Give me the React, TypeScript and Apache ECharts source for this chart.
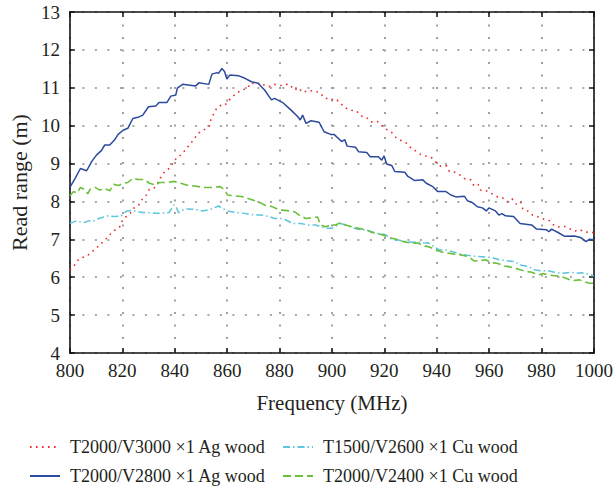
import React, { useEffect, useRef } from "react";
import * as echarts from "echarts";

const seriesNames = [
  "T2000/V3000 ×1 Ag wood",
  "T1500/V2600 ×1 Cu wood",
  "T2000/V2800 ×1 Ag wood",
  "T2000/V2400 ×1 Cu wood",
];

const xTicksMin = 800;
const xTicksMax = 1000;
const yTicksMin = 4;
const yTicksMax = 13;

// T2000/V3000 ×1 Ag wood (red dotted)
const redData: [number, number][] = [
  [800, 6.19], [801.8, 6.32], [803.3, 6.47], [804.8, 6.52], [806.7, 6.57], [808.6, 6.68],
  [810.4, 6.79], [812.1, 6.9], [813.7, 7.01], [815.5, 7.14], [817.1, 7.24], [819, 7.33],
  [820, 7.49], [821.5, 7.6], [823.1, 7.69], [824.3, 7.82], [826.2, 7.9], [827.4, 8.04],
  [829.2, 8.17], [830.3, 8.32], [832.2, 8.36], [833.5, 8.48], [834.7, 8.64], [836.2, 8.79],
  [837.9, 8.87], [839.5, 9.02], [840.8, 9.16], [842.5, 9.23], [844.2, 9.37], [845.8, 9.51],
  [846.9, 9.6], [848.2, 9.73], [849.7, 9.84], [851.4, 9.9], [853.2, 9.99], [853.8, 10.16],
  [855.1, 10.34], [856.1, 10.47], [857.7, 10.54], [859.2, 10.54], [860.5, 10.66], [862.1, 10.77],
  [863.9, 10.87], [865.5, 10.94], [867.7, 10.98], [869.1, 11.13], [871.2, 11.09], [872.7, 11.13],
  [874.6, 11.05], [876.5, 11.03], [878.1, 11.09], [880.4, 11.06], [882.2, 11.09], [883.8, 11.09],
  [885.7, 10.94], [887.2, 11.0], [888.8, 10.88], [890.9, 10.92], [892.9, 10.92], [895.5, 10.87],
  [897, 10.74], [899.3, 10.68], [901.4, 10.71], [903, 10.61], [904.8, 10.48], [907, 10.41],
  [909.3, 10.39], [911, 10.26], [913.3, 10.21], [914.9, 10.1], [917.4, 10.11], [919, 10.0],
  [920.9, 9.9], [922.8, 9.82], [924.4, 9.69], [926.3, 9.61], [928.2, 9.55], [929.9, 9.43],
  [931.8, 9.34], [933.8, 9.24], [935.7, 9.2], [938.1, 9.15], [939.5, 9.05], [941.4, 8.93],
  [943.8, 8.94], [944.8, 8.79], [946.9, 8.77], [948.8, 8.7], [950.6, 8.6], [953, 8.57],
  [954.2, 8.41], [955.8, 8.45], [956.7, 8.3], [958.9, 8.28], [960.9, 8.21], [962.8, 8.13],
  [965.2, 8.09], [966.8, 7.99], [968.7, 8.07], [970.3, 7.93], [972.1, 7.99], [972.8, 7.8],
  [974.7, 7.75], [976.6, 7.64], [979, 7.59], [981, 7.53], [983.1, 7.49], [985, 7.35],
  [987.2, 7.32], [988.8, 7.34], [990.7, 7.28], [992.8, 7.22], [994.5, 7.26], [996.6, 7.19],
  [998.9, 7.19], [1000, 7.17],
];

// T1500/V2600 ×1 Cu wood (cyan dash-dot)
const cyanData: [number, number][] = [
  [800, 7.42], [802.6, 7.49], [805.2, 7.44], [807.5, 7.49], [809.6, 7.49], [811, 7.55],
  [814.6, 7.62], [817, 7.6], [819.6, 7.62], [821.5, 7.74], [823.4, 7.76], [825.3, 7.74],
  [827.8, 7.71], [830.3, 7.7], [832.8, 7.69], [835.3, 7.69], [837.9, 7.71], [839.7, 7.91],
  [840.3, 7.88], [841.6, 7.7], [843.5, 7.79], [844.8, 7.8], [847.3, 7.79], [849.2, 7.77],
  [850.4, 7.75], [853.6, 7.79], [856.7, 7.88], [858.6, 7.8], [860.5, 7.74], [863, 7.71],
  [865.5, 7.7], [868, 7.67], [870.5, 7.64], [873, 7.64], [875.6, 7.61], [878.1, 7.55],
  [880.6, 7.55], [882.5, 7.51], [885, 7.42], [888.1, 7.42], [890.7, 7.38], [893.8, 7.38],
  [895.7, 7.33], [898.2, 7.29], [900, 7.29], [903.3, 7.42], [906.4, 7.35], [909.5, 7.27],
  [912.7, 7.25], [917.7, 7.15], [920.2, 7.13], [922.8, 7.0], [925.3, 6.98], [928.5, 6.94],
  [930.9, 6.92], [932.8, 6.94], [935.4, 6.9], [936.6, 6.91], [941, 6.72], [943.5, 6.72],
  [946, 6.67], [949.2, 6.61], [951.7, 6.58], [953.6, 6.56], [957.4, 6.54], [961.1, 6.52],
  [963.7, 6.46], [967.4, 6.43], [969.9, 6.41], [971.8, 6.32], [975, 6.28], [977.5, 6.19],
  [980, 6.17], [982.5, 6.17], [985, 6.13], [987.5, 6.1], [991.3, 6.13], [993.2, 6.1],
  [995.1, 6.12], [997, 6.1], [999.5, 6.04], [1000, 6.04],
];

// T2000/V2800 ×1 Ag wood (blue solid)
const blueData: [number, number][] = [
  [800, 8.37], [802, 8.61], [804, 8.87], [806.4, 8.81], [808.3, 9.05], [810.2, 9.23],
  [812, 9.34], [813.3, 9.49], [815.2, 9.49], [817, 9.62], [818.4, 9.77], [820.3, 9.88],
  [822.1, 9.93], [824, 10.19], [826, 10.22], [827.8, 10.28], [830, 10.5], [832.8, 10.52],
  [834, 10.61], [837, 10.61], [838.5, 10.78], [840.4, 10.81], [841, 10.99], [843, 11.09],
  [848, 11.05], [849.2, 11.13], [853, 11.09], [854.2, 11.36], [856.1, 11.4], [856.7, 11.38],
  [858, 11.51], [859, 11.43], [859.9, 11.23], [861.1, 11.34], [864.3, 11.32], [866.8, 11.25],
  [869.3, 11.16], [871.8, 11.12], [874.3, 10.94], [876.9, 10.68], [878.1, 10.72], [881.2, 10.61],
  [884.4, 10.41], [886.9, 10.24], [887.9, 10.15], [888.8, 10.28], [890.1, 10.06], [892, 10.13],
  [895.1, 10.09], [897, 9.84], [899.5, 9.77], [900.8, 9.77], [903.7, 9.58], [904.9, 9.63],
  [905.8, 9.46], [909, 9.43], [910.2, 9.31], [913.3, 9.29], [914.6, 9.18], [917.7, 9.18],
  [919, 9.09], [919.9, 9.2], [920.9, 8.99], [922.8, 8.95], [924, 8.79], [927.8, 8.77],
  [929, 8.66], [931.6, 8.55], [934.7, 8.57], [936, 8.48], [938.5, 8.39], [940.4, 8.26],
  [943.5, 8.26], [945.4, 8.17], [947.3, 8.12], [950.5, 8.14], [951.7, 8.02], [953.6, 7.97],
  [955.5, 7.86], [957.4, 7.83], [958.9, 7.75], [959.9, 7.83], [962.4, 7.75], [963.7, 7.64],
  [964.9, 7.68], [966.2, 7.62], [969.3, 7.6], [971.8, 7.42], [976.2, 7.38], [978.1, 7.27],
  [981.9, 7.25], [982.8, 7.2], [983.8, 7.27], [986.3, 7.18], [988.8, 7.08], [992.6, 7.09],
  [995.1, 7.04], [997, 6.94], [998.2, 7.0], [1000, 6.99],
];

// T2000/V2400 ×1 Cu wood (green dashed)
const greenData: [number, number][] = [
  [800, 8.15], [801.4, 8.26], [802.7, 8.22], [804, 8.37], [805.5, 8.32], [806.8, 8.2],
  [807.7, 8.32], [809.6, 8.37], [811.4, 8.3], [813.3, 8.34], [815.2, 8.28], [816.7, 8.45],
  [818.6, 8.42], [820.3, 8.48], [822.1, 8.5], [824, 8.61], [826, 8.58], [828.4, 8.58],
  [830.3, 8.48], [832.8, 8.43], [834.1, 8.5], [837.2, 8.5], [839.7, 8.53], [842.3, 8.48],
  [844.8, 8.43], [849.2, 8.39], [851, 8.37], [854.2, 8.37], [857.4, 8.39], [859.2, 8.3],
  [860.1, 8.17], [862.4, 8.15], [865.5, 8.13], [868, 8.08], [870.6, 8.02], [873.1, 7.95],
  [875, 7.88], [876.9, 7.87], [879.4, 7.79], [881.3, 7.77], [883.8, 7.75], [885.7, 7.73],
  [887.5, 7.64], [890.1, 7.55], [892, 7.57], [894.5, 7.59], [895.7, 7.38], [897.6, 7.33],
  [899.5, 7.38], [901.4, 7.38], [903.3, 7.44], [905.2, 7.38], [907.7, 7.33], [910.2, 7.29],
  [913.3, 7.25], [915.2, 7.18], [917.7, 7.15], [919.6, 7.11], [922.1, 7.04], [924.6, 7.0],
  [927.2, 6.94], [930.3, 6.9], [932.8, 6.9], [935.4, 6.82], [937.2, 6.8], [939.1, 6.74],
  [941.6, 6.67], [944.2, 6.64], [946.7, 6.61], [949.2, 6.59], [951.1, 6.56], [952.3, 6.54],
  [954.2, 6.43], [956.7, 6.44], [958.6, 6.46], [961.1, 6.38], [963, 6.37], [965.5, 6.3],
  [967.4, 6.28], [969.9, 6.24], [971.8, 6.2], [974.3, 6.15], [976.2, 6.13], [978.7, 6.06],
  [980.6, 6.1], [982.5, 6.06], [985, 6.04], [987.5, 6.02], [990.1, 5.95], [992, 5.91],
  [994.5, 5.93], [996.3, 5.88], [998.2, 5.84], [1000, 5.84],
];

const FONT = "Liberation Serif";
const INK = "#231f20";

export default function App() {
  const ref = useRef<HTMLDivElement>(null);
  useEffect(() => {
    if (!ref.current) return;
    const chart = echarts.init(ref.current, undefined, { renderer: "svg" });
    const gridLine = { show: true, lineStyle: { color: "#8a8a8a", type: [2, 10.5] as any, width: 1.6 } };
    const axisLine = { show: true, onZero: false, lineStyle: { color: "#111", width: 1.6 } };
    const axisTick = { show: true, inside: true, length: 5, lineStyle: { color: "#111", width: 1.5 } };
    const legendBase = {
      itemWidth: 30,
      itemHeight: 12,
      itemStyle: { opacity: 0 },
      textStyle: { fontFamily: FONT, fontSize: 18, color: INK, padding: [0, 0, 0, 5] },
      padding: 0,
      itemGap: 0,
    };
    chart.setOption({
      animation: false,
      backgroundColor: "#fff",
      textStyle: { fontFamily: FONT },
      grid: { left: 68, right: 19, top: 12, bottom: 136, containLabel: false },
      xAxis: [
        {
          type: "value",
          min: xTicksMin,
          max: xTicksMax,
          interval: 20,
          name: "Frequency (MHz)",
          nameLocation: "middle",
          nameGap: 39,
          nameTextStyle: { fontFamily: FONT, fontSize: 21, color: INK },
          axisLabel: {
            fontFamily: FONT,
            fontSize: 19,
            color: INK,
            margin: 8,
            formatter: (v: number) => String(v),
          },
          axisLine,
          axisTick,
          splitLine: gridLine,
        },
        {
          type: "value",
          position: "top",
          min: xTicksMin,
          max: xTicksMax,
          interval: 20,
          axisLabel: { show: false },
          axisLine,
          axisTick,
          splitLine: { show: false },
        },
      ],
      yAxis: [
        {
          type: "value",
          min: yTicksMin,
          max: yTicksMax,
          interval: 1,
          name: "Read range (m)",
          nameLocation: "middle",
          nameGap: 38,
          nameTextStyle: { fontFamily: FONT, fontSize: 22, color: INK },
          axisLabel: {
            fontFamily: FONT,
            fontSize: 19,
            color: INK,
            margin: 10,
            formatter: (v: number) => String(v),
          },
          axisLine,
          axisTick,
          splitLine: gridLine,
        },
        {
          type: "value",
          position: "right",
          min: yTicksMin,
          max: yTicksMax,
          interval: 1,
          axisLabel: { show: false },
          axisLine,
          axisTick,
          splitLine: { show: false },
        },
      ],
      legend: [
        { ...legendBase, data: [seriesNames[0]], left: 29, top: 438 },
        { ...legendBase, data: [seriesNames[1]], left: 282, top: 438 },
        { ...legendBase, data: [seriesNames[2]], left: 29, top: 467 },
        { ...legendBase, data: [seriesNames[3]], left: 282, top: 467 },
      ],
      series: [
        {
          name: seriesNames[0],
          type: "line",
          data: redData,
          symbol: "none",
          z: 3,
          itemStyle: { color: "#ee2a2a" },
          lineStyle: { color: "#ee2a2a", width: 1.6, type: [1.6, 4.4] as any },
        },
        {
          name: seriesNames[1],
          type: "line",
          data: cyanData,
          symbol: "none",
          z: 2,
          itemStyle: { color: "#5cc6dc" },
          lineStyle: { color: "#5cc6dc", width: 1.5, type: [7, 3, 1.5, 3] as any },
        },
        {
          name: seriesNames[2],
          type: "line",
          data: blueData,
          symbol: "none",
          z: 4,
          itemStyle: { color: "#2c4a9e" },
          lineStyle: { color: "#2c4a9e", width: 1.5, type: "solid" },
        },
        {
          name: seriesNames[3],
          type: "line",
          data: greenData,
          symbol: "none",
          z: 3,
          itemStyle: { color: "#6cbf3c" },
          lineStyle: { color: "#6cbf3c", width: 1.6, type: [8, 4] as any },
        },
      ],
    });
    return () => chart.dispose();
  }, []);
  return (
    <div
      ref={ref}
      style={{ position: "fixed", left: 0, top: 0, width: 616, height: 489 }}
    />
  );
}
